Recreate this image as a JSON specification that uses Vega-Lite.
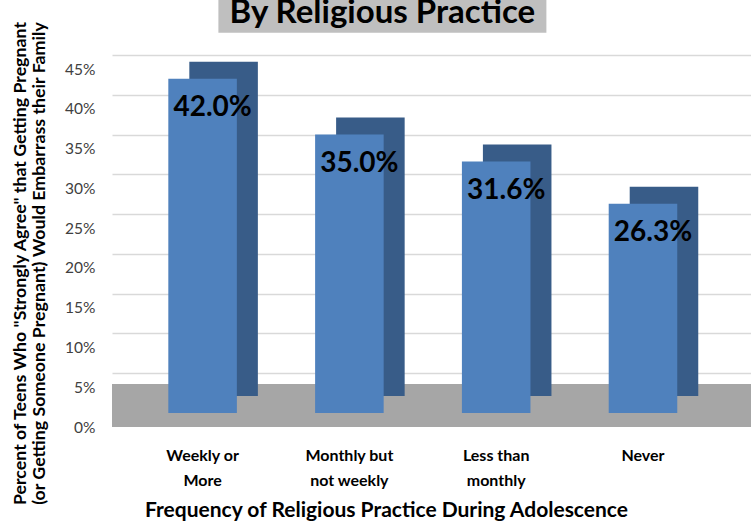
{
  "$schema": "https://vega.github.io/schema/vega-lite/v6.json",
  "autosize": {"type": "none"},
  "width": 639,
  "height": 358,
  "padding": {"left": 112, "top": 55, "right": 0, "bottom": 116},
  "background": "white",
  "config": {
    "view": {"stroke": null},
    "font": "Lato",
    "axisY": {
      "tickCount": 10, "labelOverlap": false,
      "labelExpr": "datum.value + '%'",
      "labelFont": "Lato", "labelFontSize": 15.5, "labelColor": "#404040", "labelPadding": 17, "labelOffset": 14,
      "domain": false, "ticks": false,
      "grid": true, "gridColor": "#d9d9d9", "gridWidth": 1.5,
      "titleFont": "Lato", "titleFontSize": 17.8, "titleFontWeight": "bold", "titleColor": "#000000",
      "titleAngle": -90, "titleX": -101, "titleY": 208, "titleBaseline": "top", "titleAlign": "center", "titleLineHeight": 19
    },
    "axisX": {
      "labelAngle": 0, "labelFont": "Lato", "labelFontSize": 16, "labelFontWeight": "bold", "labelColor": "#000000",
      "labelPadding": 42, "labelLineHeight": 25, "labelBaseline": "middle",
      "labelExpr": "datum.value == 'Weekly or More' ? ['Weekly or', 'More'] : datum.value == 'Monthly but not weekly' ? ['Monthly but', 'not weekly'] : datum.value == 'Less than monthly' ? ['Less than', 'monthly'] : datum.value",
      "domain": false, "ticks": false, "grid": false,
      "titleFont": "Lato", "titleFontSize": 21, "titleFontWeight": "bold", "titleColor": "#000000",
      "titleX": 274, "titleY": 97, "titleBaseline": "middle", "titleAlign": "center"
    }
  },
  "data": {
    "values": [
      {"category": "Weekly or More", "value": 42.0, "label": "42.0%"},
      {"category": "Monthly but not weekly", "value": 35.0, "label": "35.0%"},
      {"category": "Less than monthly", "value": 31.6, "label": "31.6%"},
      {"category": "Never", "value": 26.3, "label": "26.3%"}
    ]
  },
  "layer": [
    {
      "data": {"values": [{"part": "floor"}]},
      "mark": {"type": "rect", "color": "#a6a6a6"},
      "encoding": {
        "y": {"datum": 3.65, "type": "quantitative", "scale": {"domain": [0, 45], "nice": false, "zero": true}},
        "y2": {"datum": -1.76}
      }
    },
    {
      "mark": {"type": "bar", "color": "#385c88", "xOffset": 21, "yOffset": -17, "y2Offset": -17},
      "encoding": {
        "x": {
          "field": "category", "type": "nominal", "sort": null,
          "scale": {"paddingInner": 0.533, "paddingOuter": 0.443, "align": 0.433},
          "axis": {"title": "Frequency of Religious Practice During Adolescence"}
        },
        "y": {
          "field": "value", "type": "quantitative",
          "scale": {"domain": [0, 45], "nice": false, "zero": true},
          "axis": {
            "title": ["Percent of Teens Who \"Strongly Agree\" that Getting Pregnant", "(or Getting Someone Pregnant) Would Embarrass their Family"],
            "values": [0, 5, 10, 15, 20, 25, 30, 35, 40, 45]
          }
        },
        "y2": {"datum": 0}
      }
    },
    {
      "mark": {"type": "bar", "color": "#4f81bd"},
      "encoding": {
        "x": {"field": "category", "type": "nominal", "sort": null, "axis": {"title": "Frequency of Religious Practice During Adolescence"}},
        "y": {"field": "value", "type": "quantitative", "axis": {"title": ["Percent of Teens Who \"Strongly Agree\" that Getting Pregnant", "(or Getting Someone Pregnant) Would Embarrass their Family"], "values": [0, 5, 10, 15, 20, 25, 30, 35, 40, 45]}},
        "y2": {"datum": 0}
      }
    },
    {
      "mark": {"type": "text", "font": "Lato", "fontSize": 28, "fontWeight": "bold", "color": "#000000", "baseline": "middle", "dy": 29, "dx": 10},
      "encoding": {
        "x": {"field": "category", "type": "nominal", "sort": null, "axis": {"title": "Frequency of Religious Practice During Adolescence"}},
        "y": {"field": "value", "type": "quantitative", "axis": {"title": ["Percent of Teens Who \"Strongly Agree\" that Getting Pregnant", "(or Getting Someone Pregnant) Would Embarrass their Family"], "values": [0, 5, 10, 15, 20, 25, 30, 35, 40, 45]}},
        "text": {"field": "label", "type": "nominal"}
      }
    },
    {
      "data": {"values": [{"part": "titlebox", "title": "By Religious Practice"}]},
      "layer": [
        {
          "mark": {"type": "bar", "color": "#bfbfbf", "width": 328, "xOffset": 33},
          "encoding": {
            "x": {"datum": "Monthly but not weekly", "type": "nominal"},
            "y": {"datum": 47.8, "type": "quantitative"},
            "y2": {"datum": 53}
          }
        },
        {
          "mark": {"type": "text", "font": "Lato", "fontSize": 33, "fontWeight": "bold", "color": "#000000", "baseline": "alphabetic", "align": "center", "xOffset": 33},
          "encoding": {
            "x": {"datum": "Monthly but not weekly", "type": "nominal"},
            "y": {"datum": 49.0, "type": "quantitative"},
            "text": {"field": "title", "type": "nominal"}
          }
        }
      ]
    }
  ]
}
